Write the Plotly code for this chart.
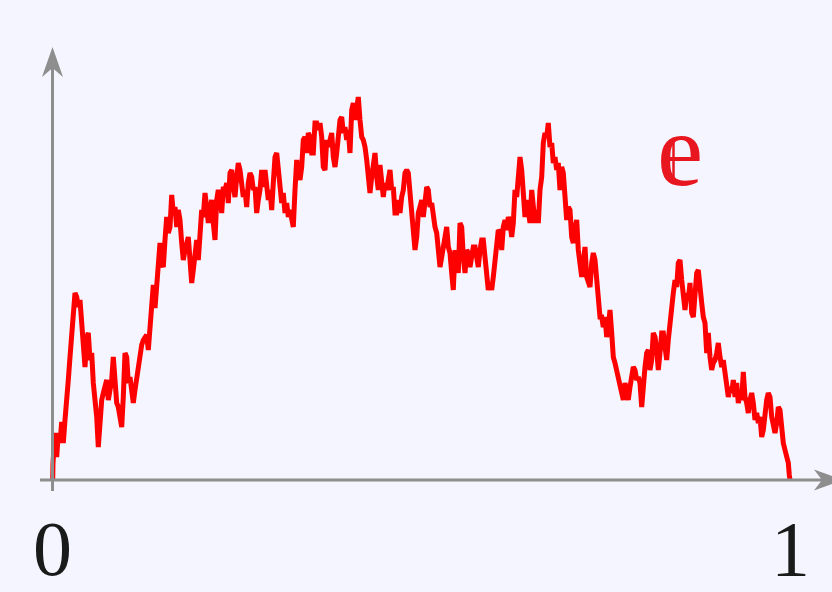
import plotly.graph_objects as go

# Brownian excursion path.
# t: time in sample units (0 .. T_END), h: height in sample units (0 .. H_MAX)
T_END = 738.0
H_MAX = 383.0

t = [0.7, 1, 3, 4.7, 6.3, 8, 9.7, 11.3, 13, 14.7, 16.3, 18, 19.7, 21.3, 23, 24.7, 26.3, 28, 29.7, 31.3,
     33, 34.7, 36.3, 38, 39.7, 41.3, 43, 44.7, 46.3, 48, 49.7, 51.3, 53, 54.7, 56.3, 58, 59.7, 61.3, 63, 64.7,
     66.3, 68, 69.7, 71.3, 73, 74.7, 76.3, 78, 79.7, 81.3, 83, 84.7, 86.3, 88, 89.7, 91.3, 93, 94.7, 96.3,
     98, 99.7, 101.3, 103, 104.7, 106.3, 108, 109.7, 111.3, 113, 114.7, 116.3, 118, 119.7, 121.3, 123, 124.7,
     126.3, 128, 129.7, 131.3, 133, 134.7, 136.3, 138, 139.7, 141.3, 143, 144.7, 146.3, 148, 149.7, 151.3,
     153, 154.7, 156.3, 158, 159.7, 161.3, 163, 164.7, 166.3, 168, 169.7, 171.3, 173, 174.7, 176.3, 178,
     179.7, 181.3, 183, 184.7, 186.3, 188, 189.7, 191.3, 193, 194.7, 196.3, 198, 199.7, 201.3, 203, 204.7,
     206.3,
     208, 209.7, 211.3, 213, 214.7, 216.3, 218, 219.7, 221.3, 223, 224.7, 226.3, 228, 229.7, 231.3, 233,
     234.7, 236.3, 238, 239.7, 241.3, 243, 244.7, 246.3, 248, 249.7, 251.3, 253, 254.7, 256.3, 258, 259.7,
     261.3, 263, 264.7, 266.3, 268, 269.7, 271.3, 273, 274.7, 276.3, 278, 279.7, 281.3, 283, 284.7, 286.3,
     288, 289.7, 291.3, 293, 294.7, 296.3, 298, 299.7, 301.3, 303, 304.7, 306.3, 308, 309.7, 311.3, 313,
     314.7, 316.3, 318, 319.7, 321.3, 323, 324.7, 326.3,
     328, 329.7, 331.3, 333, 334.7, 336.3, 338, 339.7, 341.3, 343, 344.7, 346.3, 348, 349.7, 351.3, 353,
     354.7, 356.3, 358, 359.7, 361.3, 363, 364.7, 366.3, 368, 369.7, 371.3, 373, 374.7, 376.3, 378, 379.7,
     381.3, 383, 384.7, 386.3, 388, 389.7, 391.3, 393, 394.7, 396.3, 398, 399.7, 401.3, 403, 404.7, 406.3,
     408, 409.7, 411.3, 413, 414.7, 416.3, 418, 419.7, 421.3, 423, 424.7, 426.3, 428, 429.7, 431.3, 433,
     434.7, 436.3, 438, 439.7, 441.3, 443, 444.7, 446.3,
     448, 449.7, 451.3, 453, 454.7, 456.3, 458, 459.7, 461.3, 463, 464.7, 466.3, 468, 469.7, 471.3, 473,
     474.7, 476.3, 478, 479.7, 481.3, 483, 484.7, 486.3, 488, 489.7, 491.3, 493, 494.7, 496.3, 498, 499.7,
     501.3, 503, 504.7, 506.3, 508, 509.7, 511.3, 513, 514.7, 516.3, 518, 519.7, 521.3, 523, 524.7, 526.3,
     528, 529.7, 531.3, 533, 534.7, 536.3, 538, 539.7, 541.3, 543, 544.7, 546.3, 548, 549.7, 551.3, 553,
     554.7, 556.3, 558, 559.7, 561.3, 563, 564.7, 566.3,
     568, 569.7, 571.3, 573, 574.7, 576.3, 578, 579.7, 581.3, 583, 584.7, 586.3, 588, 589.7, 591.3, 593,
     594.7, 596.3, 598, 599.7, 601.3, 603, 604.7, 606.3, 608, 609.7, 611.3, 613, 614.7, 616.3, 618, 619.7,
     621.3, 623, 624.7, 626.3, 628, 629.7, 631.3, 633, 634.7, 636.3, 638, 639.7, 641.3, 643, 644.7, 646.3,
     648, 649.7, 651.3, 653, 654.7, 656.3, 658, 659.7, 661.3, 663, 664.7, 666.3, 668, 669.7, 671.3, 673,
     674.7, 676.3, 678, 679.7, 681.3, 683, 684.7, 686.3, 688, 689.7,
     691.3, 693, 694.7, 696.3, 698, 699.7, 701.3, 703, 704.7, 706.3, 708, 709.7, 711.3, 713, 714.7, 716.3,
     718, 719.7, 721.3, 723, 724.7, 726.3, 728, 729.7, 731.3, 733, 734.7, 736.3, 737.3, 738]

h = [0, 17, 47, 23, 47, 37, 58, 37, 60, 77, 100, 123, 143, 173, 187, 183, 173, 180, 160, 127,
     113, 143, 147, 120, 127, 97, 83, 63, 33, 60, 80, 87, 97, 100, 80, 93, 100, 123, 93, 77,
     73, 60, 53, 83, 127, 123, 97, 103, 83, 77, 90, 103, 113, 130, 135, 140, 143, 145, 130,
     150, 180, 195, 172, 195, 212, 237, 217, 213, 240, 263, 247, 253, 285, 267, 273, 253,
     270, 260, 237, 220, 230, 240, 243, 220, 197, 210, 233, 240, 220, 247, 270, 263,
     287, 273, 257, 270, 280, 257, 240, 280, 290, 283, 267, 293, 290, 297, 277, 307,
     310, 293, 283, 303, 317, 310, 290, 283, 290, 273, 297, 307, 303, 290, 293, 267,
     280,
     290, 310, 293, 310, 290, 280, 290, 270, 297, 323, 327, 313, 297, 277, 287, 267,
     277, 263, 270, 257, 253, 290, 320, 307, 300, 313, 340, 343, 327, 347, 343, 327,
     327, 357, 357, 350, 357, 343, 313, 310, 340, 333, 343, 347, 323, 313, 327, 350,
     360, 363, 347, 353, 340, 350, 327, 370, 377, 360, 377, 383, 360, 343, 340, 333,
     320, 300, 287, 303, 317, 327, 303, 290,
     315, 297, 283, 297, 290, 300, 310, 290, 293, 267, 267, 280, 267, 283, 290, 307,
     310, 307, 283, 263, 250, 230, 243, 267, 273, 280, 263, 277, 293, 290, 273, 277,
     263, 253, 247, 230, 213, 223, 233, 250, 253, 233, 227, 207, 190, 230, 220, 207,
     257, 253, 223, 207, 230, 227, 213, 223, 233, 233, 217, 213, 230, 240, 240, 223,
     210, 190, 197, 190, 203, 223, 237, 250,
     248, 230, 253, 260, 250, 263, 257, 243, 257, 290, 283, 303, 323, 310, 283, 263,
     280, 270, 257, 290, 277, 257, 270, 257, 290, 303, 337, 347, 343, 357, 333, 337,
     317, 323, 310, 317, 290, 313, 307, 270, 260, 273, 270, 243, 237, 253, 260, 230,
     210, 203, 217, 233, 203, 197, 193, 217, 227, 220, 203, 183, 163, 163, 153, 163,
     143, 153, 170, 147, 123, 117, 110, 103,
     92, 88, 80, 97, 90, 80, 93, 103, 113, 110, 100, 103, 97, 73, 97, 113,
     127, 130, 110, 120, 147, 143, 130, 110, 127, 147, 147, 130, 120, 140, 160, 177,
     187, 200, 193, 217, 220, 200, 177, 170, 187, 180, 197, 167, 163, 187, 207, 210,
     187, 177, 163, 157, 127, 147, 123, 110, 117, 120, 127, 137, 123, 113, 120, 107,
     97, 83, 93, 87, 100, 83, 97, 77, 85, 80,
     108, 83, 77, 67, 80, 87, 77, 60, 67, 57, 63, 43, 50, 67, 80, 87,
     83, 63, 57, 47, 57, 73, 70, 47, 37, 30, 23, 17, 5, 0]

x_vals = [v / T_END for v in t]
y_vals = [v / H_MAX for v in h]

tick_labels = ["0", "1"]
tick_pos = [0, 1]
curve_label = "e"

W, H = 832, 592
BG = "#F4F5FE"
AX = "#8E8E8E"
RED = "#FF0000"
LABEL_RED = "#E8161E"

# pixel layout of the plotting frame
X0_PX, X1_PX = 52, 790      # x = 0 and x = 1
Y0_PX, YTOP_PX = 480, 97    # y = 0 and y = 1
sx = (X1_PX - X0_PX)
sy = (Y0_PX - YTOP_PX)
xr = [-X0_PX / sx, (W - X0_PX) / sx]
yr = [-(H - Y0_PX) / sy, Y0_PX / sy]


def px(xp):
    return xp / W


def py(yp):
    return 1 - yp / H


fig = go.Figure()
fig.add_trace(go.Scatter(x=x_vals, y=y_vals, mode="lines",
                         line=dict(color=RED, width=5), hoverinfo="skip"))

shapes = []
# axes lines
shapes.append(dict(type="line", xref="paper", yref="paper", x0=px(40), x1=px(824), y0=py(480), y1=py(480),
                   line=dict(color=AX, width=3)))
shapes.append(dict(type="line", xref="paper", yref="paper", x0=px(52.5), x1=px(52.5), y0=py(491), y1=py(66),
                   line=dict(color=AX, width=3)))
# arrow heads
yh = f"M {px(52.5)},{py(47)} L {px(63)},{py(77)} L {px(52.5)},{py(68)} L {px(42)},{py(77)} Z"
xh = f"M {px(843)},{py(480)} L {px(814)},{py(469.5)} L {px(822)},{py(480)} L {px(814)},{py(490.5)} Z"
for p in (yh, xh):
    shapes.append(dict(type="path", xref="paper", yref="paper", path=p,
                       fillcolor=AX, line=dict(color=AX, width=0)))
# vertical stroke of the double-struck e
shapes.append(dict(type="line", xref="paper", yref="paper", layer="above",
                   x0=px(673.5), x1=px(673.5), y0=py(138), y1=py(182),
                   line=dict(color=LABEL_RED, width=2.5)))

annotations = []
for lab, pos in zip(tick_labels, tick_pos):
    annotations.append(dict(x=pos, y=-0.18, xref="x", yref="y", text=lab, showarrow=False,
                            font=dict(family="Liberation Serif", size=78, color="#1a1a1a"),
                            xanchor="center", yanchor="middle"))
annotations.append(dict(x=px(680), y=py(149), xref="paper", yref="paper", text=curve_label, showarrow=False,
                        font=dict(family="Liberation Serif", size=104, color=LABEL_RED),
                        xanchor="center", yanchor="middle"))

fig.update_layout(
    width=W, height=H, margin=dict(l=0, r=0, t=0, b=0),
    paper_bgcolor=BG, plot_bgcolor=BG, showlegend=False,
    xaxis=dict(range=xr, visible=False, fixedrange=True),
    yaxis=dict(range=yr, visible=False, fixedrange=True),
    shapes=shapes, annotations=annotations,
)
fig.write_html("out.html")
